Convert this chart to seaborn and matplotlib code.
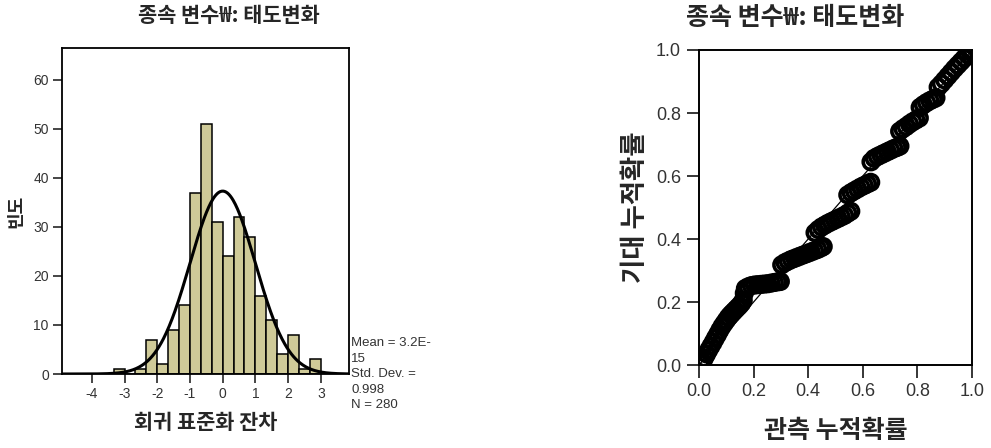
import numpy as np
import pandas as pd
import matplotlib
matplotlib.use("Agg")
import matplotlib.pyplot as plt
import seaborn as sns

# ---------------- data ----------------
title_text = "종속 변수₩: 태도변화"
hist_xlabel = "회귀 표준화 잔차"
hist_ylabel = "빈도"
pp_xlabel = "관측 누적확률"
pp_ylabel = "기대 누적확률"

bin_start = -10 / 3
bin_width = 1 / 3
bin_counts = [1, 0, 1, 7, 2, 9, 14, 37, 51, 31, 24, 32, 28, 16, 11, 4, 8, 1, 3]
resid_mean = 3.2e-15
resid_sd = 0.998
resid_n = 280
stats_text = "Mean = 3.2E-\n15\nStd. Dev. =\n0.998\nN = 280"
hist_xticks = [-4, -3, -2, -1, 0, 1, 2, 3]
hist_yticks = [0, 10, 20, 30, 40, 50, 60]

pp_observed = [0.004, 0.012, 0.020, 0.028, 0.036, 0.044, 0.052, 0.060, 0.068, 0.076,
               0.084, 0.092, 0.100, 0.108, 0.116, 0.124, 0.132, 0.140, 0.148, 0.156,
               0.162, 0.166,
               0.170, 0.180, 0.192, 0.204, 0.216, 0.228, 0.240, 0.252, 0.264, 0.276,
               0.288, 0.298,
               0.303, 0.315, 0.327, 0.339, 0.351, 0.363, 0.375, 0.387, 0.399, 0.411,
               0.423, 0.435, 0.447, 0.455,
               0.425, 0.437, 0.449, 0.461, 0.473, 0.485, 0.497, 0.509, 0.521, 0.533,
               0.545, 0.556,
               0.545, 0.557, 0.569, 0.581, 0.593, 0.605, 0.617, 0.629,
               0.630, 0.642, 0.654, 0.666, 0.678, 0.690, 0.702, 0.714, 0.726, 0.736,
               0.735, 0.747, 0.759, 0.771, 0.783, 0.795, 0.807,
               0.810, 0.822, 0.834, 0.846, 0.858, 0.868,
               0.876, 0.888, 0.900, 0.912, 0.924, 0.936, 0.948, 0.960, 0.972, 0.984,
               0.994, 1.000]
pp_expected = [0.003, 0.012, 0.022, 0.035, 0.048, 0.060, 0.072, 0.085, 0.097, 0.110,
               0.122, 0.132, 0.142, 0.152, 0.160, 0.167, 0.174, 0.181, 0.188, 0.196,
               0.205, 0.228,
               0.243, 0.248, 0.252, 0.254, 0.255, 0.256, 0.257, 0.258, 0.260, 0.262,
               0.264, 0.265,
               0.318, 0.325, 0.330, 0.335, 0.339, 0.343, 0.347, 0.351, 0.355, 0.359,
               0.363, 0.367, 0.372, 0.376,
               0.420, 0.430, 0.438, 0.444, 0.450, 0.455, 0.460, 0.465, 0.470, 0.475,
               0.482, 0.488,
               0.540, 0.547, 0.553, 0.559, 0.565, 0.570, 0.575, 0.580,
               0.645, 0.656, 0.662, 0.667, 0.672, 0.677, 0.682, 0.687, 0.691, 0.695,
               0.742, 0.750, 0.757, 0.765, 0.772, 0.778, 0.784,
               0.818, 0.826, 0.833, 0.839, 0.844, 0.848,
               0.882, 0.893, 0.905, 0.917, 0.929, 0.941, 0.952, 0.963, 0.974, 0.985,
               0.993, 1.000]
pp_ticks = [0.0, 0.2, 0.4, 0.6, 0.8, 1.0]

# ---------------- style ----------------
sns.set_style("ticks")
plt.rcParams["font.family"] = ["Liberation Sans", "Noto Sans CJK KR", "DejaVu Sans"]
plt.rcParams["axes.unicode_minus"] = False
kr = ["Noto Sans CJK KR", "DejaVu Sans"]

bar_color = "#CFCA98"
tick_color = "#333333"

fig = plt.figure(figsize=(9.91, 4.48), dpi=100)
ax1 = fig.add_axes([62 / 991, 1 - 374 / 448, 287 / 991, 326 / 448])
ax2 = fig.add_axes([699 / 991, 1 - 365 / 448, 273 / 991, 315 / 448])

# ---------------- histogram ----------------
edges = [bin_start + i * bin_width for i in range(len(bin_counts) + 1)]
centers = [bin_start + (i + 0.5) * bin_width for i in range(len(bin_counts))]
hdf = pd.DataFrame({"resid": centers, "count": bin_counts})
sns.histplot(data=hdf, x="resid", weights="count", bins=edges, color=bar_color,
             edgecolor="black", linewidth=1.1, alpha=1.0, ax=ax1)

xlim1 = (-4.91, 3.86)
grid = np.linspace(xlim1[0], xlim1[1], 400)
dens = resid_n * bin_width * np.exp(-0.5 * ((grid - resid_mean) / resid_sd) ** 2) / (resid_sd * np.sqrt(2 * np.pi))
sns.lineplot(x=grid, y=dens, color="black", linewidth=2.2, ax=ax1)

ax1.set_xlim(*xlim1)
ax1.set_ylim(0, 66.5)
ax1.set_xticks(hist_xticks)
ax1.set_xticklabels([str(t) for t in hist_xticks])
ax1.set_yticks(hist_yticks)
ax1.set_yticklabels([str(t) for t in hist_yticks])
ax1.tick_params(axis="both", direction="out", length=6.5, width=1.2, labelsize=10,
                labelcolor=tick_color, pad=3)
for s in ax1.spines.values():
    s.set_visible(True)
    s.set_linewidth(1.3)
    s.set_color("black")
ax1.set_xlabel(hist_xlabel, family=kr, fontsize=15, fontweight="bold", va="center")
ax1.xaxis.set_label_coords(0.5, -0.150)
ax1.set_ylabel(hist_ylabel, family=kr, fontsize=13, fontweight="bold", va="center")
ax1.yaxis.set_label_coords(-0.160, 0.5)
fig.text(351 / 991, 1 - 337 / 448, stats_text, ha="left", va="top", fontsize=9.5,
         color=tick_color, linespacing=1.4)

# ---------------- P-P plot ----------------
sns.lineplot(x=[0, 1], y=[0, 1], color="black", linewidth=0.9, ax=ax2)
sns.scatterplot(x=pp_observed, y=pp_expected, marker="o", s=125, color="black",
                edgecolor="black", linewidth=2.6, ax=ax2)
for coll in ax2.collections:
    coll.set_facecolor("none")
    coll.set_edgecolor("black")

ax2.set_xlim(0, 1)
ax2.set_ylim(0, 1)
ax2.set_xticks(pp_ticks)
ax2.set_xticklabels([f"{t:.1f}" for t in pp_ticks])
ax2.set_yticks(pp_ticks)
ax2.set_yticklabels([f"{t:.1f}" for t in pp_ticks])
ax2.tick_params(axis="both", direction="out", length=9, width=1.3, labelsize=13,
                labelcolor=tick_color, pad=4)
for s in ax2.spines.values():
    s.set_visible(True)
    s.set_linewidth(1.4)
    s.set_color("black")
ax2.set_xlabel(pp_xlabel, family=kr, fontsize=18, fontweight="bold", va="center")
ax2.xaxis.set_label_coords(0.5, -0.2086)
ax2.set_ylabel(pp_ylabel, family=kr, fontsize=19, fontweight="bold", va="center")
ax2.yaxis.set_label_coords(-0.231, 0.5)

# ---------------- titles ----------------
fig.text(229 / 991, 1 - 15 / 448, title_text, family=kr, fontsize=15,
         fontweight="bold", ha="center", va="center")
fig.text(795 / 991, 1 - 18 / 448, title_text, family=kr, fontsize=18,
         fontweight="bold", ha="center", va="center")

fig.savefig("out.png", dpi=100)
